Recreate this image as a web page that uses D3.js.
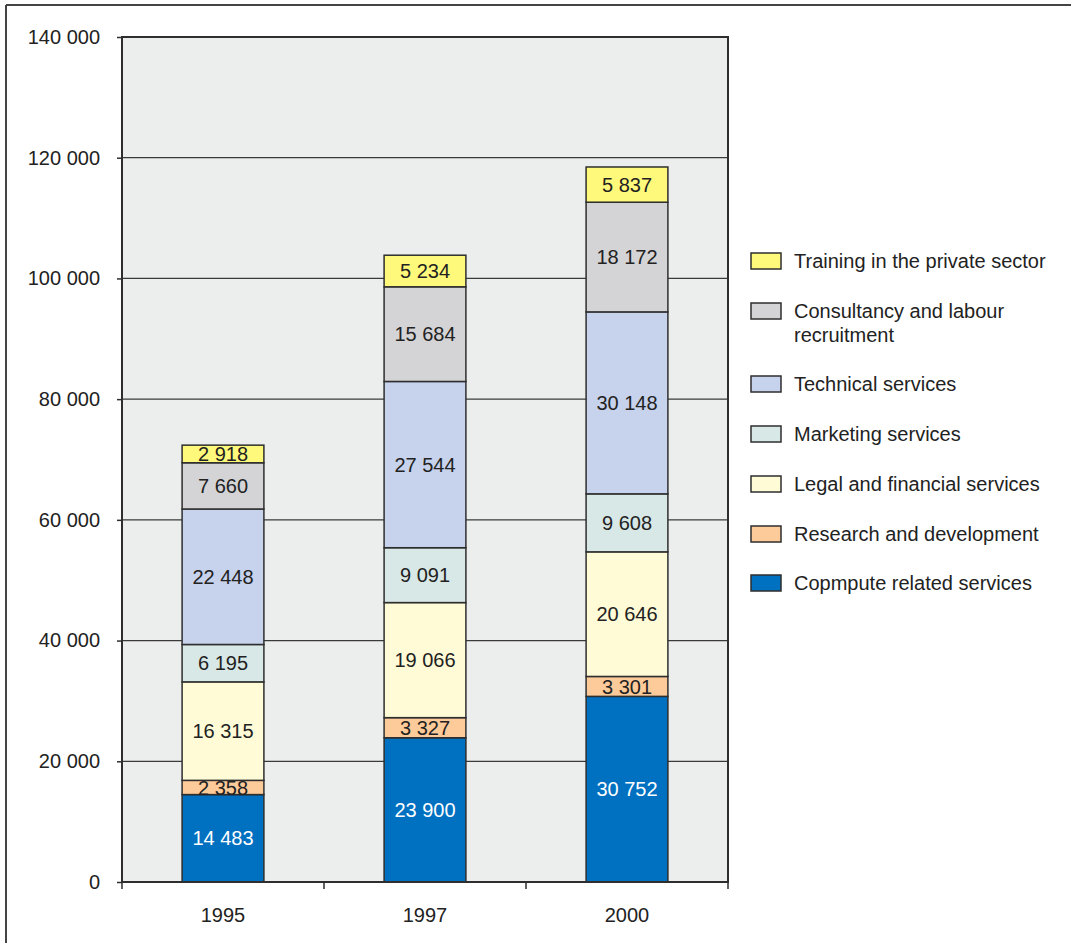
<!DOCTYPE html>
<html>
<head>
<meta charset="utf-8">
<script src="https://cdn.jsdelivr.net/npm/d3@7"></script>
<style>
  html, body { margin: 0; padding: 0; background: #ffffff; }
  svg text { font-family: "Liberation Sans Narrow", "Arial Narrow", "Liberation Sans", sans-serif; fill: #222; }
</style>
</head>
<body>
<svg id="chart" width="1071" height="943"></svg>
<script>
// Employment in business services, by sub-sector
const years = ["1995", "1997", "2000"];
const seriesNames = [
  "Copmpute related services",
  "Research and development",
  "Legal and financial services",
  "Marketing services",
  "Technical services",
  "Consultancy and labour recruitment",
  "Training in the private sector"
];
const computeRelated   = [14483, 23900, 30752];
const researchDev      = [2358, 3327, 3301];
const legalFinancial   = [16315, 19066, 20646];
const marketing        = [6195, 9091, 9608];
const technical        = [22448, 27544, 30148];
const consultancy      = [7660, 15684, 18172];
const training         = [2918, 5234, 5837];
const yTicks = [0, 20000, 40000, 60000, 80000, 100000, 120000, 140000];

const seriesValues = [computeRelated, researchDev, legalFinancial, marketing, technical, consultancy, training];
const colors = ["#0070c0", "#fdca99", "#fffbd6", "#d8e8e6", "#c7d2ec", "#d4d4d6", "#fff97b"];
const labelColors = ["#ffffff", "#222", "#222", "#222", "#222", "#222", "#222"];

const rows = years.map((y, i) => {
  const r = { year: y };
  seriesNames.forEach((s, k) => { r[s] = seriesValues[k][i]; });
  return r;
});
const stacked = d3.stack().keys(seriesNames)(rows);

const svg = d3.select("#chart");
const fmt = v => d3.format(",")(v).replace(/,/g, " ");

// outer frame (top and left rules)
svg.append("line").attr("x1", 6).attr("x2", 1071).attr("y1", 5).attr("y2", 5)
  .attr("stroke", "#444").attr("stroke-width", 2);
svg.append("line").attr("x1", 6).attr("x2", 6).attr("y1", 5).attr("y2", 943)
  .attr("stroke", "#444").attr("stroke-width", 2);

const plot = { left: 122, right: 728, top: 37, bottom: 882 };
const x = d3.scaleBand().domain(years).range([plot.left, plot.right]).padding(0);
const y = d3.scaleLinear().domain([0, 140000]).range([plot.bottom, plot.top]);
const barW = x.step() * 0.405;

// plot background
svg.append("rect").attr("x", plot.left).attr("y", plot.top)
  .attr("width", plot.right - plot.left).attr("height", plot.bottom - plot.top)
  .attr("fill", "#eceeed");

// horizontal gridlines
svg.append("g").selectAll("line").data(yTicks.slice(1, -1)).join("line")
  .attr("x1", plot.left).attr("x2", plot.right)
  .attr("y1", d => y(d)).attr("y2", d => y(d))
  .attr("stroke", "#3a3a3a").attr("stroke-width", 1.2);

// stacked bars
const layers = svg.append("g").selectAll("g").data(stacked).join("g");
layers.selectAll("rect").data(d => d.map(p => ({ p, key: d.key }))).join("rect")
  .attr("x", d => x(d.p.data.year) + (x.step() - barW) / 2)
  .attr("y", d => y(d.p[1]))
  .attr("width", barW)
  .attr("height", d => y(d.p[0]) - y(d.p[1]))
  .attr("fill", d => colors[seriesNames.indexOf(d.key)])
  .attr("stroke", "#2e2e2e").attr("stroke-width", 1.5);

// segment value labels
layers.selectAll("text").data(d => d.map(p => ({ p, key: d.key }))).join("text")
  .attr("x", d => x(d.p.data.year) + x.step() / 2)
  .attr("y", d => (y(d.p[0]) + y(d.p[1])) / 2)
  .attr("dy", "0.36em")
  .attr("text-anchor", "middle")
  .attr("font-size", 20)
  .style("fill", d => labelColors[seriesNames.indexOf(d.key)])
  .text(d => fmt(d.p[1] - d.p[0]));

// plot frame
svg.append("rect").attr("x", plot.left).attr("y", plot.top)
  .attr("width", plot.right - plot.left).attr("height", plot.bottom - plot.top)
  .attr("fill", "none").attr("stroke", "#2e2e2e").attr("stroke-width", 2);

// y axis
const yAxis = d3.axisLeft(y).tickValues(yTicks).tickSize(5).tickPadding(17).tickFormat(fmt);
const gy = svg.append("g").attr("transform", `translate(${plot.left},0)`).call(yAxis);
gy.select(".domain").remove();
gy.selectAll(".tick line").attr("stroke", "#2e2e2e").attr("stroke-width", 1.5);
gy.selectAll(".tick text").attr("font-size", 20).attr("font-family", null);

// x axis: ticks at category boundaries, labels centred
const boundaries = years.map(yr => x(yr)).concat([plot.right]);
svg.append("g").selectAll("line").data(boundaries).join("line")
  .attr("x1", d => d).attr("x2", d => d)
  .attr("y1", plot.bottom).attr("y2", plot.bottom + 7)
  .attr("stroke", "#2e2e2e").attr("stroke-width", 1.5);
svg.append("g").selectAll("text").data(years).join("text")
  .attr("x", d => x(d) + x.step() / 2)
  .attr("y", 922)
  .attr("text-anchor", "middle")
  .attr("font-size", 20)
  .text(d => d);

// legend
const legendItems = [
  { key: "Training in the private sector", lines: ["Training in the private sector"], y: 261 },
  { key: "Consultancy and labour recruitment", lines: ["Consultancy and labour", "recruitment"], y: 311 },
  { key: "Technical services", lines: ["Technical services"], y: 384 },
  { key: "Marketing services", lines: ["Marketing services"], y: 434 },
  { key: "Legal and financial services", lines: ["Legal and financial services"], y: 484 },
  { key: "Research and development", lines: ["Research and development"], y: 534 },
  { key: "Copmpute related services", lines: ["Copmpute related services"], y: 583 }
];
const lg = svg.append("g").selectAll("g").data(legendItems).join("g")
  .attr("transform", d => `translate(751,${d.y})`);
lg.append("rect").attr("x", 0).attr("y", -8).attr("width", 30).attr("height", 16)
  .attr("fill", d => colors[seriesNames.indexOf(d.key)])
  .attr("stroke", "#2e2e2e").attr("stroke-width", 1.5);
lg.selectAll("text").data(d => d.lines).join("text")
  .attr("x", 43).attr("y", (d, i) => i * 24).attr("dy", "0.36em")
  .attr("font-size", 20)
  .text(d => d);
</script>
</body>
</html>
